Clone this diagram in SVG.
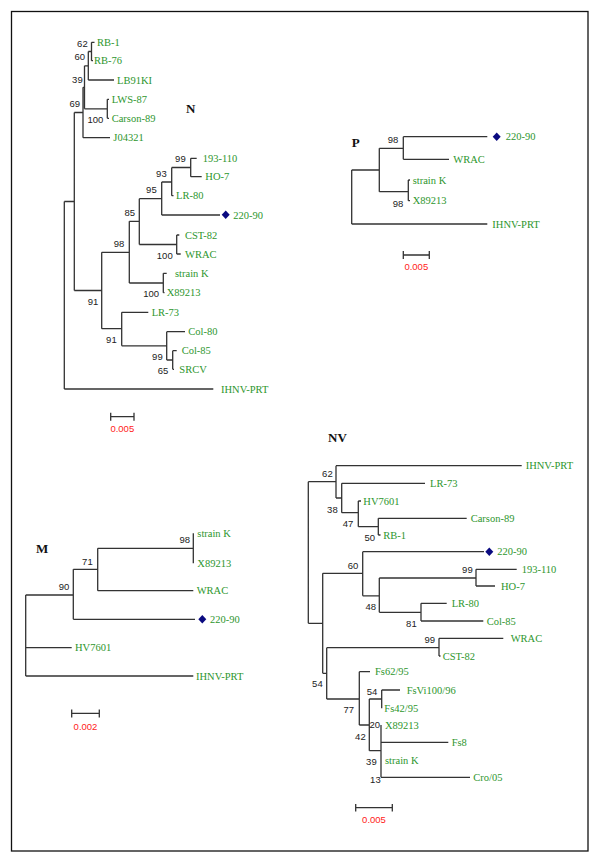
<svg xmlns="http://www.w3.org/2000/svg" width="600" height="863" viewBox="0 0 600 863">
<style>
.b{fill:none;stroke:#333;stroke-width:1.3}
.t{font-family:"Liberation Serif",serif;font-size:10.5px;fill:#2d962d}
.n{font-family:"Liberation Sans",Arial,sans-serif;font-size:9.5px;fill:#222;text-anchor:end}
.s{font-family:"Liberation Sans",Arial,sans-serif;font-size:9.5px;fill:#ff1a1a;text-anchor:middle}
.h{font-family:"Liberation Serif",serif;font-size:13px;font-weight:bold;fill:#111}
.d{fill:#0a0a80}
</style>
<rect x="11.5" y="11.5" width="576.5" height="839.5" fill="#fff" stroke="#111" stroke-width="1.3"/>

<!-- ===== N tree ===== -->
<g id="N-tree">
<text class="h" x="186" y="113.3">N</text>
<g id="N-connectors">
<path class="b" d="M91.5 42.3V60.7M91.5 42.3H94.5M91.5 60.7H93
M88.3 51.5V80M88.3 51.5H91.5M88.3 80H114
M84.5 65.8V108.8M84.5 65.8H88.3M84.5 108.8H107.3
M107.3 99.3V118.3M107.3 99.3H109M107.3 118.3H109
M83 87.3V137.7M83 87.3H84.5M83 137.7H110
M74.3 112.5V290.5M74.3 112.5H83M74.3 290.5H101.7
M64.3 201.5V389M64.3 201.5H74.3M64.3 389H213.3
M101.7 252.3V328.7M101.7 252.3H129.3M101.7 328.7H121.7
M129.3 221.3V283M129.3 221.3H139.3M129.3 283H163.3
M139.3 198.7V244.5M139.3 198.7H161.7M139.3 244.5H176.7
M161.7 182V215M161.7 182H171.7M161.7 215H220
M171.7 167.5V195.7M171.7 167.5H190.7M171.7 195.7H173.5
M190.7 158.3V176.7M190.7 158.3H196.7M190.7 176.7H201.7
M176.7 235V254M176.7 235H179.3M176.7 254H180.7
M163.3 273.3V292.7M163.3 273.3H166.7M163.3 292.7H164.5
M121.7 312.3V345.8M121.7 312.3H148.3M121.7 345.8H166.7
M166.7 331.7V360M166.7 331.7H185M166.7 360H172.7
M172.7 350.7V369.3M172.7 350.7H176.7M172.7 369.3H174"/>
</g>
<g id="N-leaves">
<g id="N-RB-1"><text class="t" x="97" y="45.8">RB-1</text></g>
<g id="N-RB-76"><text class="t" x="94" y="64.2">RB-76</text></g>
<g id="N-LB91KI"><text class="t" x="117" y="83.5">LB91KI</text></g>
<g id="N-LWS-87"><text class="t" x="111.7" y="102.8">LWS-87</text></g>
<g id="N-Carson-89"><text class="t" x="111.7" y="121.8">Carson-89</text></g>
<g id="N-J04321"><text class="t" x="113.3" y="141.2">J04321</text></g>
<g id="N-193-110"><text class="t" x="202.7" y="161.8">193-110</text></g>
<g id="N-HO-7"><text class="t" x="205.3" y="180.2">HO-7</text></g>
<g id="N-LR-80"><text class="t" x="176" y="199.2">LR-80</text></g>
<g id="N-220-90"><path class="d" d="M225.7 210.5L229.7 214.7L225.7 218.9L221.7 214.7Z"/><text class="t" x="233.3" y="218.5">220-90</text></g>
<g id="N-CST-82"><text class="t" x="185" y="238.5">CST-82</text></g>
<g id="N-WRAC"><text class="t" x="185" y="257.5">WRAC</text></g>
<g id="N-strainK"><text class="t" x="175" y="276.8">strain K</text></g>
<g id="N-X89213"><text class="t" x="166.7" y="296.2">X89213</text></g>
<g id="N-LR-73"><text class="t" x="151.7" y="315.8">LR-73</text></g>
<g id="N-Col-80"><text class="t" x="188.3" y="335.2">Col-80</text></g>
<g id="N-Col-85"><text class="t" x="181.7" y="354.2">Col-85</text></g>
<g id="N-SRCV"><text class="t" x="179.3" y="372.8">SRCV</text></g>
<g id="N-IHNV-PRT"><text class="t" x="221" y="392.5">IHNV-PRT</text></g>
</g>
<g id="N-bootstrap">
<text class="n" x="87.7" y="46.7">62</text>
<text class="n" x="85" y="60">60</text>
<text class="n" x="82.7" y="82.7">39</text>
<text class="n" x="80" y="107">69</text>
<text class="n" x="103.3" y="122.7">100</text>
<text class="n" x="185.7" y="161.7">99</text>
<text class="n" x="166.7" y="176.7">93</text>
<text class="n" x="156.7" y="193.3">95</text>
<text class="n" x="135" y="215.7">85</text>
<text class="n" x="124.3" y="246.7">98</text>
<text class="n" x="172.7" y="259">100</text>
<text class="n" x="159" y="297.3">100</text>
<text class="n" x="98.3" y="305">91</text>
<text class="n" x="116.7" y="343.3">91</text>
<text class="n" x="162.7" y="360">99</text>
<text class="n" x="168.3" y="374.3">65</text>
</g>
<g id="N-scale">
<path class="b" d="M110.7 416.7H134M110.7 412.7V420.7M134 412.7V420.7"/>
<text class="s" x="122.3" y="431.7">0.005</text>
</g>
</g>

<!-- ===== P tree ===== -->
<g id="P-tree">
<text class="h" x="351.7" y="146.7">P</text>
<g id="P-connectors">
<path class="b" d="M351.7 170V224M351.7 170H379.3M351.7 224H487.3
M379.3 148.3V191.7M379.3 148.3H403.3M379.3 191.7H408.3
M403.3 136.7V159.3M403.3 136.7H487.3M403.3 159.3H449
M408.3 180V200.7M408.3 180H410M408.3 200.7H410"/>
</g>
<g id="P-leaves">
<g id="P-220-90"><path class="d" d="M496.7 132.5L500.7 136.7L496.7 140.9L492.7 136.7Z"/><text class="t" x="505.7" y="140.2">220-90</text></g>
<g id="P-WRAC"><text class="t" x="453.3" y="162.8">WRAC</text></g>
<g id="P-strainK"><text class="t" x="412.7" y="183.5">strain K</text></g>
<g id="P-X89213"><text class="t" x="412.7" y="204.2">X89213</text></g>
<g id="P-IHNV-PRT"><text class="t" x="492.3" y="227.5">IHNV-PRT</text></g>
</g>
<g id="P-bootstrap">
<text class="n" x="398.3" y="143.3">98</text>
<text class="n" x="403.3" y="207.3">98</text>
</g>
<g id="P-scale">
<path class="b" d="M403.3 255H429.3M403.3 251V259M429.3 251V259"/>
<text class="s" x="416.3" y="270">0.005</text>
</g>
</g>

<!-- ===== M tree ===== -->
<g id="M-tree">
<text class="h" x="36" y="553.3">M</text>
<g id="M-connectors">
<path class="b" d="M25.7 595V676M25.7 595H73.3M25.7 647.7H71.7M25.7 676H193.3
M73.3 569.3V619.3M73.3 569.3H97.7M73.3 619.3H195
M97.7 548.3V590.7M97.7 548.3H193.3M97.7 590.7H193.3
M193.3 533.3V563.3"/>
</g>
<g id="M-leaves">
<g id="M-strainK"><text class="t" x="197.3" y="536.8">strain K</text></g>
<g id="M-X89213"><text class="t" x="197.3" y="566.8">X89213</text></g>
<g id="M-WRAC"><text class="t" x="196.7" y="594.2">WRAC</text></g>
<g id="M-220-90"><path class="d" d="M202.3 615.1L206.3 619.3L202.3 623.5L198.3 619.3Z"/><text class="t" x="210" y="622.8">220-90</text></g>
<g id="M-HV7601"><text class="t" x="75" y="651.2">HV7601</text></g>
<g id="M-IHNV-PRT"><text class="t" x="196" y="679.5">IHNV-PRT</text></g>
</g>
<g id="M-bootstrap">
<text class="n" x="190" y="543.3">98</text>
<text class="n" x="92.7" y="565">71</text>
<text class="n" x="69.3" y="590">90</text>
</g>
<g id="M-scale">
<path class="b" d="M71.7 713.3H99.3M71.7 709.5V717.5M99.3 709.5V717.5"/>
<text class="s" x="85.5" y="730">0.002</text>
</g>
</g>

<!-- ===== NV tree ===== -->
<g id="NV-tree">
<text class="h" x="328" y="442">NV</text>
<g id="NV-connectors">
<path class="b" d="M308.3 481.7V623.3M308.3 481.7H336M308.3 623.3H322.7
M336 465.7V498M336 465.7H521.7M336 498H341.7
M341.7 483.3V512.7M341.7 483.3H425M341.7 512.7H358.3
M358.3 501V526.7M358.3 501H361M358.3 526.7H378.3
M378.3 518.3V535M378.3 518.3H466.7M378.3 535H380.5
M322.7 573.3V673.3M322.7 573.3H362.7M322.7 673.3H326.7
M362.7 551.7V595.8M362.7 551.7H484M362.7 595.8H379.3
M379.3 578V612.3M379.3 578H476M379.3 612.3H421
M476 569.3V586M476 569.3H516.7M476 586H495
M421 603.3V621M421 603.3H446.7M421 621H483.3
M326.7 647.7V699M326.7 647.7H439M326.7 699H359.3
M439 638.3V656M439 638.3H503.3M439 656H440.5
M359.3 671.7V725M359.3 671.7H370M359.3 725H369.3
M369.3 699V750.7M369.3 699H381.7M369.3 750.7H381
M381.7 690V708.3M381.7 690H400
M381 725V777.3M381 742.3H448.3M381 777.3H470"/>
</g>
<g id="NV-leaves">
<g id="NV-IHNV-PRT"><text class="t" x="525.7" y="469.2">IHNV-PRT</text></g>
<g id="NV-LR-73"><text class="t" x="430" y="486.8">LR-73</text></g>
<g id="NV-HV7601"><text class="t" x="363.3" y="504.5">HV7601</text></g>
<g id="NV-Carson-89"><text class="t" x="470.7" y="521.8">Carson-89</text></g>
<g id="NV-RB-1"><text class="t" x="383.3" y="538.5">RB-1</text></g>
<g id="NV-220-90"><path class="d" d="M489.3 547.5L493.3 551.7L489.3 555.9L485.3 551.7Z"/><text class="t" x="497.3" y="555.2">220-90</text></g>
<g id="NV-193-110"><text class="t" x="521.7" y="572.8">193-110</text></g>
<g id="NV-HO-7"><text class="t" x="501" y="589.5">HO-7</text></g>
<g id="NV-LR-80"><text class="t" x="451.7" y="606.8">LR-80</text></g>
<g id="NV-Col-85"><text class="t" x="486.7" y="624.5">Col-85</text></g>
<g id="NV-WRAC"><text class="t" x="510.7" y="641.8">WRAC</text></g>
<g id="NV-CST-82"><text class="t" x="442.7" y="659.5">CST-82</text></g>
<g id="NV-Fs62-95"><text class="t" x="375" y="675.2">Fs62/95</text></g>
<g id="NV-FsVi100-96"><text class="t" x="406.7" y="693.5">FsVi100/96</text></g>
<g id="NV-Fs42-95"><text class="t" x="384.3" y="711.8">Fs42/95</text></g>
<g id="NV-X89213"><text class="t" x="385" y="728.5">X89213</text></g>
<g id="NV-Fs8"><text class="t" x="451.7" y="745.8">Fs8</text></g>
<g id="NV-strainK"><text class="t" x="385" y="763.5">strain K</text></g>
<g id="NV-Cro-05"><text class="t" x="473.3" y="780.8">Cro/05</text></g>
</g>
<g id="NV-bootstrap">
<text class="n" x="332.7" y="476.7">62</text>
<text class="n" x="337.7" y="512.7">38</text>
<text class="n" x="353.3" y="527.3">47</text>
<text class="n" x="375" y="540.7">50</text>
<text class="n" x="358.3" y="569.3">60</text>
<text class="n" x="472.7" y="572.7">99</text>
<text class="n" x="376" y="610">48</text>
<text class="n" x="416.7" y="626.7">81</text>
<text class="n" x="435" y="643.3">99</text>
<text class="n" x="322.7" y="686.7">54</text>
<text class="n" x="377.3" y="695">54</text>
<text class="n" x="354" y="713.3">77</text>
<text class="n" x="380" y="728.3">20</text>
<text class="n" x="365.7" y="740">42</text>
<text class="n" x="376.7" y="765">39</text>
<text class="n" x="380.7" y="782.7">13</text>
</g>
<g id="NV-scale">
<path class="b" d="M355.7 807.7H392.3M355.7 804V811.5M392.3 804V811.5"/>
<text class="s" x="374" y="822.7">0.005</text>
</g>
</g>
</svg>
